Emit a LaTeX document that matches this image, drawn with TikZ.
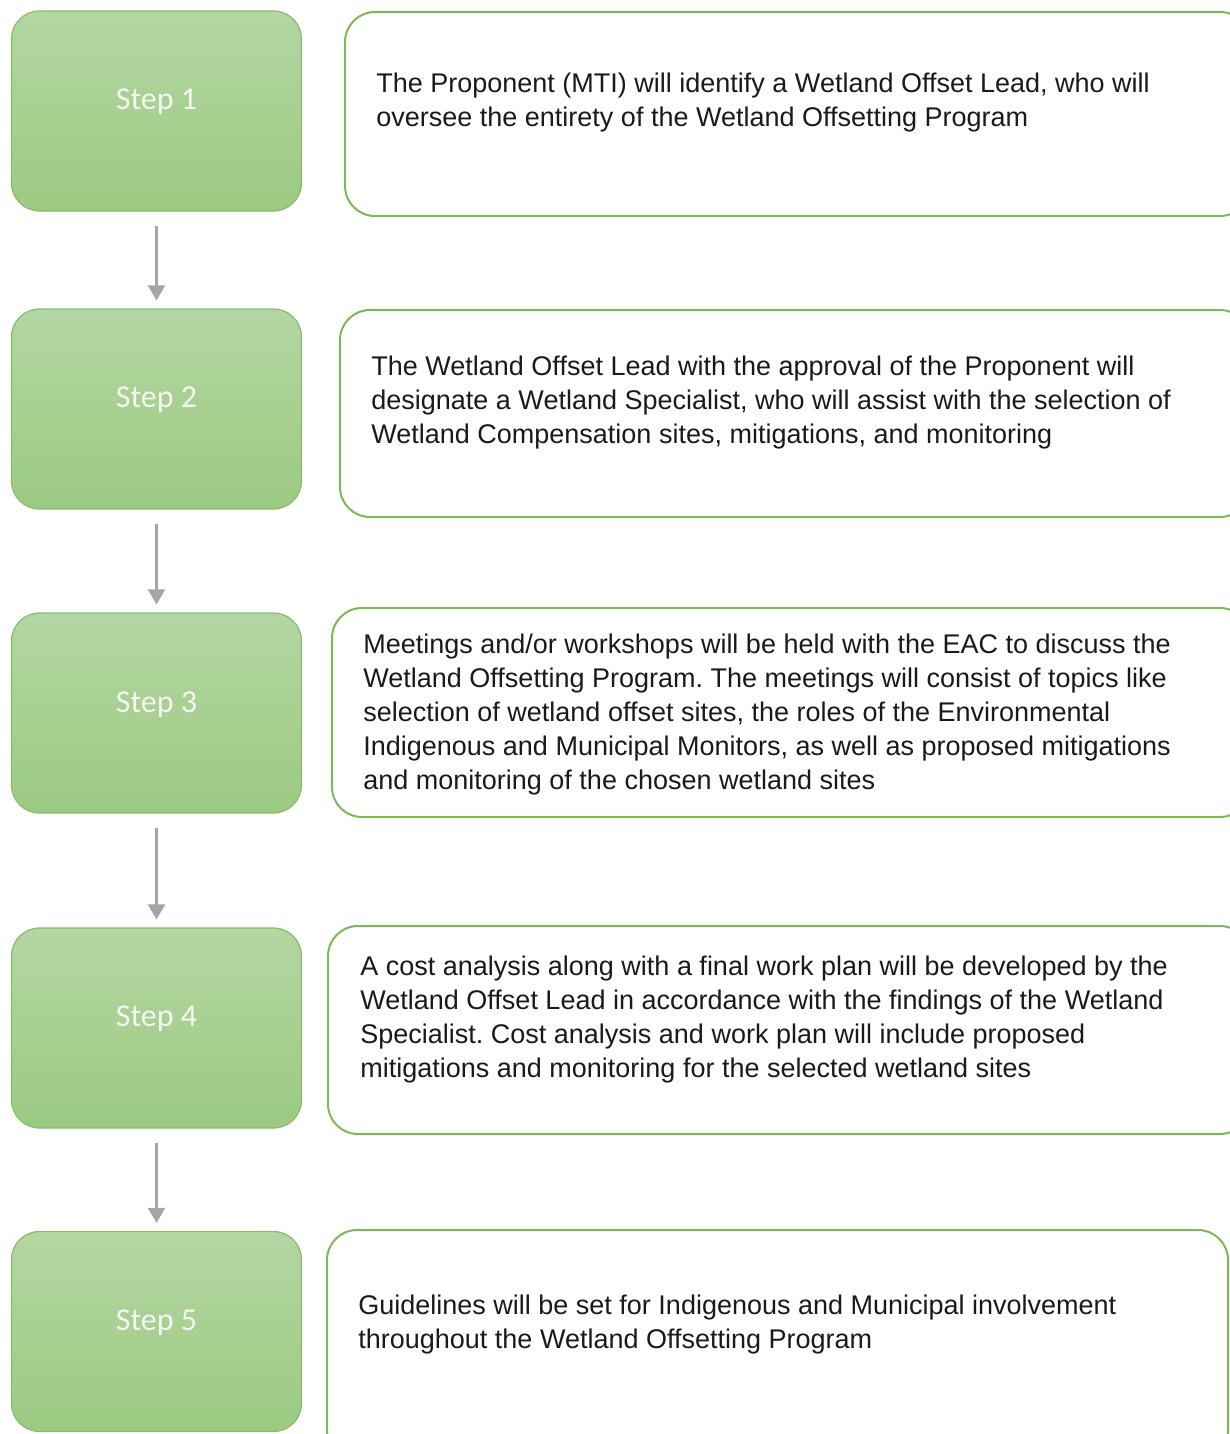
\documentclass[tikz,border=0pt]{standalone}
\usepackage{fontspec}
\setmainfont{Liberation Sans}
\newfontfamily\stepfont{Carlito}
\usepackage{xcolor}
\usepackage{tikz}
\usetikzlibrary{positioning,arrows.meta}
\definecolor{wotop}{HTML}{B4D6A3}
\definecolor{wobottom}{HTML}{9BCA81}
\definecolor{woedge}{HTML}{88BC6C}
\definecolor{wobox}{HTML}{7DB956}
\definecolor{wogrey}{HTML}{A5A5A5}
\definecolor{wotext}{HTML}{1A1A1A}
\definecolor{wowhite}{HTML}{F4F9F1}
\frenchspacing

\begin{document}
\begin{tikzpicture}[x=0.5pt,y=-0.5pt,
  stepbox/.style={draw=woedge,line width=0.6pt,rounded corners=14pt,
    top color=wotop,bottom color=wobottom,
    minimum width=145pt,minimum height=100pt,inner sep=0pt},
  steplabel/.style={text=wowhite,font=\stepfont\fontsize{16}{19}\selectfont},
  descbox/.style={draw=wobox,line width=1pt,rounded corners=15pt},
  desctext/.style={anchor=west,align=left,text=wotext,inner sep=0pt,
    font=\fontsize{13.5}{17}\selectfont},
  flow/.style={draw=wogrey,line width=1.2pt,-{Triangle[width=8.5pt,length=7.5pt]},
    shorten <=7pt,shorten >=4pt}]
  \useasboundingbox (0,0) rectangle (1230,1434);
  % steps on the left
  \foreach \i/\y/\ty in {1/111/102,2/409/400,3/713/705,4/1028/1019,5/1331.5/1323} {
    \node[stepbox] (s\i) at (156.5,\y) {};
    \node[steplabel] (s\i t) at (156.5,\ty) {Step \i};
  }
  % descriptions on the right
  \draw[descbox] (345,12) rectangle (1250,216);
  \draw[descbox] (340,310) rectangle (1250,517);
  \draw[descbox] (332,608) rectangle (1250,817);
  \draw[descbox] (328,926) rectangle (1250,1134);
  \draw[descbox] (327,1230) rectangle (1228,1460);
  \node[desctext] (d1) at (376,103) {The Proponent (MTI) will identify a Wetland Offset Lead, who will\\
    oversee the entirety of the Wetland Offsetting Program};
  \node[desctext] (d2) at (371,403) {The Wetland Offset Lead with the approval of the Proponent will\\
    designate a Wetland Specialist, who will assist with the selection of\\
    Wetland Compensation sites, mitigations, and monitoring};
  \node[desctext] (d3) at (363,714.5) {Meetings and/or workshops will be held with the EAC to discuss the\\
    Wetland Offsetting Program. The meetings will consist of topics like\\
    selection of wetland offset sites, the roles of the Environmental\\
    Indigenous and Municipal Monitors, as well as proposed mitigations\\
    and monitoring of the chosen wetland sites};
  \node[desctext] (d4) at (360,1019.5) {A cost analysis along with a final work plan will be developed by the\\
    Wetland Offset Lead in accordance with the findings of the Wetland\\
    Specialist. Cost analysis and work plan will include proposed\\
    mitigations and monitoring for the selected wetland sites};
  \node[desctext] (d5) at (358,1325) {Guidelines will be set for Indigenous and Municipal involvement\\
    throughout the Wetland Offsetting Program};
  % arrows between steps
  \foreach \a/\b in {1/2,2/3,3/4,4/5}
    \draw[flow] (s\a) -- (s\b);
\end{tikzpicture}
\end{document}
